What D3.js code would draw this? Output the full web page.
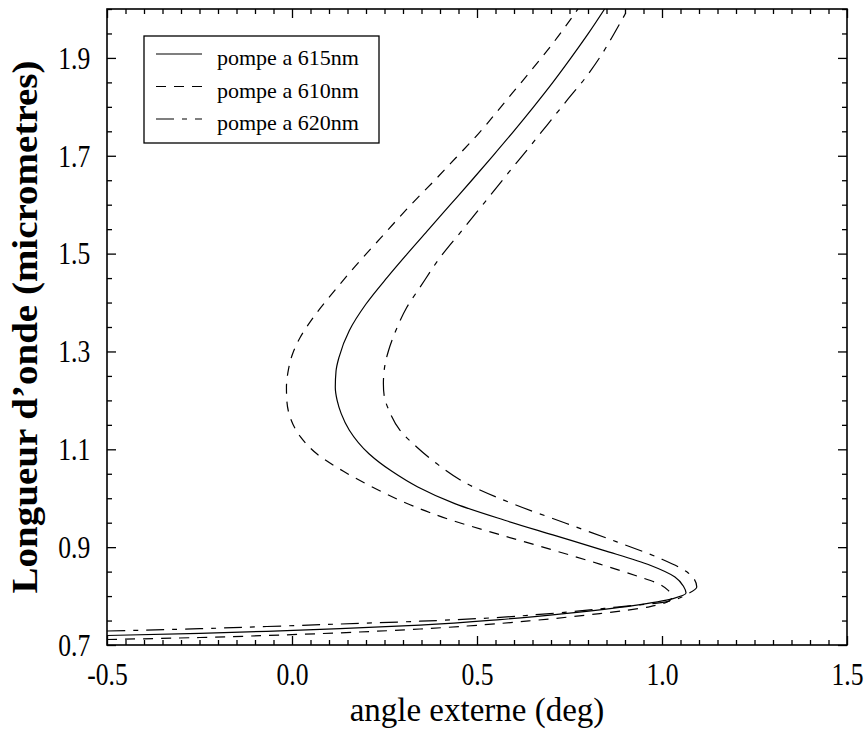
<!DOCTYPE html>
<html><head><meta charset="utf-8">
<script src="https://cdn.jsdelivr.net/npm/d3@7"></script>
<style>body{margin:0;background:#fff;} svg{display:block;}</style>
</head><body>
<svg id="c" width="864" height="740"></svg>
<script>
// ---- data ----
const xTickValues = [-0.5, 0.0, 0.5, 1.0, 1.5];
const xTickLabels = ["-0.5", "0.0", "0.5", "1.0", "1.5"];
const yTickValues = [0.7, 0.9, 1.1, 1.3, 1.5, 1.7, 1.9];
const yTickLabels = ["0.7", "0.9", "1.1", "1.3", "1.5", "1.7", "1.9"];
const legendLabels = ["pompe a 615nm", "pompe a 610nm", "pompe a 620nm"];

// wavelength (micrometres) and external angle (deg) for each pump
const lam615 = [0.7194,0.7239,0.7280,0.7333,0.7408,0.7520,0.7647,0.7806,0.7949,0.8061,0.820,0.839,0.863,0.894,0.925,0.955,0.989,1.023,1.055,1.091,1.139,1.173,1.200,1.227,1.260,1.288,1.343,1.397,1.452,1.500,1.550,1.600,1.650,1.700,1.750,1.800,1.850,1.900,1.950,2.000];
const ang615 = [-0.5,-0.249,-0.068,0.130,0.346,0.562,0.743,0.922,1.030,1.065,1.058,1.035,0.968,0.840,0.705,0.575,0.440,0.340,0.270,0.208,0.155,0.133,0.122,0.117,0.119,0.127,0.155,0.200,0.258,0.312,0.370,0.428,0.486,0.543,0.599,0.653,0.705,0.754,0.801,0.845];

const lam610 = [0.7112,0.7153,0.7194,0.7249,0.7327,0.7388,0.7500,0.7643,0.7786,0.7878,0.7980,0.8122,0.8265,0.8388,0.8653,0.8959,0.9255,0.9561,0.9867,1.0184,1.0551,1.0908,1.1265,1.1633,1.2000,1.2271,1.2571,1.2939,1.3286,1.3700,1.4296,1.4735,1.5306,1.5980,1.6541,1.6959,1.7443,1.8122,1.8714,1.9327,2.0];
const ang610 = [-0.5,-0.249,-0.068,0.130,0.346,0.473,0.651,0.832,0.968,1.014,1.027,1.016,0.987,0.941,0.832,0.697,0.562,0.427,0.319,0.229,0.139,0.067,0.022,-0.004,-0.014,-0.015,-0.011,0.001,0.022,0.058,0.121,0.170,0.238,0.319,0.391,0.443,0.503,0.578,0.643,0.708,0.773];

const lam620 = [0.7286,0.7333,0.7378,0.7429,0.7486,0.7545,0.7643,0.7776,0.7888,0.8041,0.8184,0.8347,0.8496,0.8769,0.9108,0.9484,0.9857,1.0265,1.0708,1.1047,1.1388,1.1796,1.2102,1.2341,1.2714,1.3020,1.3469,1.3898,1.4312,1.4918,1.5469,1.6014,1.6653,1.7163,1.7633,1.8122,1.8633,1.9082,1.9490,2.0];
const ang620 = [-0.5,-0.249,-0.068,0.130,0.346,0.516,0.697,0.878,1.014,1.068,1.094,1.087,1.067,0.995,0.878,0.742,0.607,0.481,0.391,0.337,0.292,0.262,0.249,0.247,0.251,0.261,0.283,0.310,0.346,0.400,0.459,0.517,0.585,0.640,0.690,0.742,0.797,0.838,0.870,0.908];

// ---- layout ----
const L = 107, R = 847, T = 9, B = 645;
const svg = d3.select("#c");
const x = d3.scaleLinear().domain([-0.5, 1.5]).range([L, R]);
const y = d3.scaleLinear().domain([0.7, 2.0]).range([B, T]);

const xMinor = d3.range(0, 41).filter(i => i % 10 !== 0).map(i => -0.5 + i * 0.05);
const yMinor = d3.range(0, 27).filter(i => i % 4 !== 0).map(i => 0.7 + i * 0.05);

const font = "'Liberation Serif', 'Times New Roman', serif";

function styleAxis(g) {
  g.select(".domain").remove();
  g.selectAll(".tick line").attr("stroke", "#000").attr("stroke-width", 1.3);
}

// bottom
svg.append("g").attr("transform", `translate(0,${B})`)
  .call(d3.axisBottom(x).tickValues(xTickValues).tickSize(-9).tickPadding(17)
    .tickFormat((d, i) => xTickLabels[i]))
  .call(styleAxis)
  .call(g => g.selectAll("text").attr("font-family", font).attr("font-size", 32)
    .attr("fill", "#000").attr("transform", "scale(0.8,1)"));
svg.append("g").attr("transform", `translate(0,${B})`)
  .call(d3.axisBottom(x).tickValues(xMinor).tickSize(-5).tickFormat("")).call(styleAxis);
// top
svg.append("g").attr("transform", `translate(0,${T})`)
  .call(d3.axisTop(x).tickValues(xTickValues).tickSize(-9).tickFormat("")).call(styleAxis);
svg.append("g").attr("transform", `translate(0,${T})`)
  .call(d3.axisTop(x).tickValues(xMinor).tickSize(-5).tickFormat("")).call(styleAxis);
// left
svg.append("g").attr("transform", `translate(${L},0)`)
  .call(d3.axisLeft(y).tickValues(yTickValues).tickSize(-9).tickPadding(21)
    .tickFormat((d, i) => yTickLabels[i]))
  .call(styleAxis)
  .call(g => g.selectAll("text").attr("font-family", font).attr("font-size", 32)
    .attr("fill", "#000").attr("transform", "scale(0.8,1)"));
svg.append("g").attr("transform", `translate(${L},0)`)
  .call(d3.axisLeft(y).tickValues(yMinor).tickSize(-5).tickFormat("")).call(styleAxis);
// right
svg.append("g").attr("transform", `translate(${R},0)`)
  .call(d3.axisRight(y).tickValues(yTickValues).tickSize(-9).tickFormat("")).call(styleAxis);
svg.append("g").attr("transform", `translate(${R},0)`)
  .call(d3.axisRight(y).tickValues(yMinor).tickSize(-5).tickFormat("")).call(styleAxis);

// frame
svg.append("rect").attr("x", L).attr("y", T).attr("width", R - L).attr("height", B - T)
  .attr("fill", "none").attr("stroke", "#000").attr("stroke-width", 1.6);

// curves
svg.append("clipPath").attr("id", "clip").append("rect")
  .attr("x", L).attr("y", T).attr("width", R - L).attr("height", B - T);

const series = [
  { lam: lam615, ang: ang615, dash: null },
  { lam: lam610, ang: ang610, dash: "10,8" },
  { lam: lam620, ang: ang620, dash: "18,8,5,8" }
];
const line = d3.line().x(d => x(d[1])).y(d => y(d[0])).curve(d3.curveMonotoneY);
const cg = svg.append("g").attr("clip-path", "url(#clip)");
series.forEach(s => {
  cg.append("path").datum(s.lam.map((l, i) => [l, s.ang[i]]))
    .attr("d", line).attr("fill", "none").attr("stroke", "#000")
    .attr("stroke-width", 1.2).attr("stroke-dasharray", s.dash);
});

// legend
const lg = svg.append("g");
lg.append("rect").attr("x", 144).attr("y", 36).attr("width", 235).attr("height", 107)
  .attr("fill", "#fff").attr("stroke", "#000").attr("stroke-width", 1.3);
series.forEach((s, i) => {
  const yy = 54 + i * 32.5;
  lg.append("line").attr("x1", 156).attr("x2", 202).attr("y1", yy).attr("y2", yy)
    .attr("stroke", "#000").attr("stroke-width", 1.2).attr("stroke-dasharray", s.dash);
  lg.append("text").attr("x", 217).attr("y", yy + 11).attr("font-family", font)
    .attr("font-size", 22).attr("fill", "#000").text(legendLabels[i]);
});

// axis titles
svg.append("text").attr("x", (L + R) / 2).attr("y", 721).attr("text-anchor", "middle")
  .attr("font-family", font).attr("font-size", 33).attr("fill", "#000")
  .text("angle externe (deg)");
svg.append("text").attr("transform", `translate(37,${(T + B) / 2}) rotate(-90)`)
  .attr("text-anchor", "middle").attr("font-family", font).attr("font-size", 35)
  .attr("font-weight", "bold").attr("fill", "#000")
  .attr("textLength", 533).attr("lengthAdjust", "spacingAndGlyphs")
  .text("Longueur d\u2019onde (micrometres)");
</script>
</body></html>
